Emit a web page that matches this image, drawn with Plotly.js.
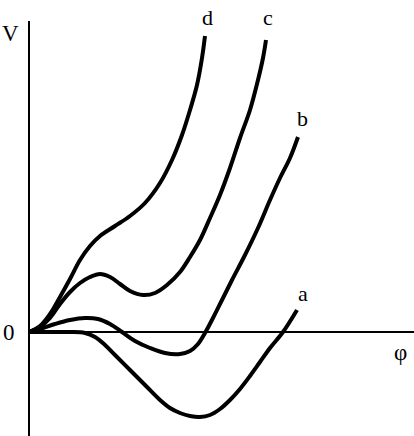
<!DOCTYPE html>
<html>
<head>
<meta charset="utf-8">
<script src="https://cdn.plot.ly/plotly-3.0.1.min.js"></script>
<style>
  html, body { margin: 0; padding: 0; background: #fff; }
  #myDiv { width: 414px; height: 436px; }
</style>
</head>
<body>
<div id="myDiv"></div>
<script>
// potential curves V(phi) (arbitrary units)
var phiA = [0, 21, 41, 56, 66, 76, 86, 101, 116, 131, 141, 151, 161, 171, 181, 191, 201, 211, 221, 231, 241, 254, 268];
var vA   = [0, 0, 0, -1, -5, -13, -23, -38, -53, -68, -76, -81, -84, -85, -83, -77, -68, -57, -44, -30, -16, 0, 22];

var phiB = [0, 11, 26, 41, 56, 69, 81, 93, 106, 121, 136, 151, 161, 169, 176, 184, 193, 203, 216, 229, 241, 251, 261, 269];
var vB   = [0, 3, 8, 12, 14, 13, 8, 0, -9, -16, -21, -22, -19, -12, -1, 14, 32, 52, 77, 104, 132, 154, 174, 195];

var phiC = [0, 11, 21, 31, 41, 51, 61, 71, 81, 91, 101, 114, 126, 138, 151, 161, 171, 181, 191, 201, 211, 221, 229, 234, 237];
var vC   = [0, 5, 14, 28, 40, 49, 55, 58, 55, 48, 41, 37, 39, 47, 60, 75, 92, 114, 137, 164, 194, 222, 252, 274, 292];

var phiD = [0, 11, 21, 31, 41, 51, 61, 71, 86, 101, 116, 131, 143, 153, 161, 168, 173, 176];
var vD   = [0, 6, 18, 35, 53, 72, 86, 96, 106, 116, 129, 149, 172, 197, 222, 247, 274, 296];

var curveNames = ['a', 'b', 'c', 'd'];
var labelPhi = [274, 273, 239, 178];
var labelV   = [39, 214, 315, 315];

function curve(x, y, name) {
  return {
    x: x, y: y, name: name,
    mode: 'lines', type: 'scatter',
    line: { color: 'black', width: 4, shape: 'spline', smoothing: 1 },
    hoverinfo: 'skip', cliponaxis: false
  };
}

var data = [
  curve(phiA, vA, 'a'),
  curve(phiB, vB, 'b'),
  curve(phiC, vC, 'c'),
  curve(phiD, vD, 'd')
];

var serif = { family: 'Liberation Serif, Times New Roman, serif', color: 'black' };

var annotations = curveNames.map(function (n, i) {
  return { x: labelPhi[i], y: labelV[i], text: n, showarrow: false,
           font: Object.assign({ size: 22 }, serif) };
});
annotations.push({ x: -19, y: 299, text: 'V', showarrow: false, font: Object.assign({ size: 23 }, serif) });
annotations.push({ x: -20, y: 0, text: '0', showarrow: false, font: Object.assign({ size: 23 }, serif) });
annotations.push({ x: 371, y: -20, text: 'φ', showarrow: false, font: Object.assign({ size: 23 }, serif) });

var layout = {
  width: 414, height: 436,
  margin: { l: 0, r: 0, t: 0, b: 0 },
  paper_bgcolor: 'white', plot_bgcolor: 'white',
  showlegend: false,
  xaxis: { range: [-29, 385], visible: false, fixedrange: true },
  yaxis: { range: [-104, 332], visible: false, fixedrange: true },
  shapes: [
    { type: 'line', x0: 0, x1: 0, y0: -104, y1: 311, line: { color: 'black', width: 2 } },
    { type: 'line', x0: 0, x1: 385, y0: 0, y1: 0, line: { color: 'black', width: 2 } }
  ],
  annotations: annotations
};

Plotly.newPlot('myDiv', data, layout, { staticPlot: true });
</script>
</body>
</html>
